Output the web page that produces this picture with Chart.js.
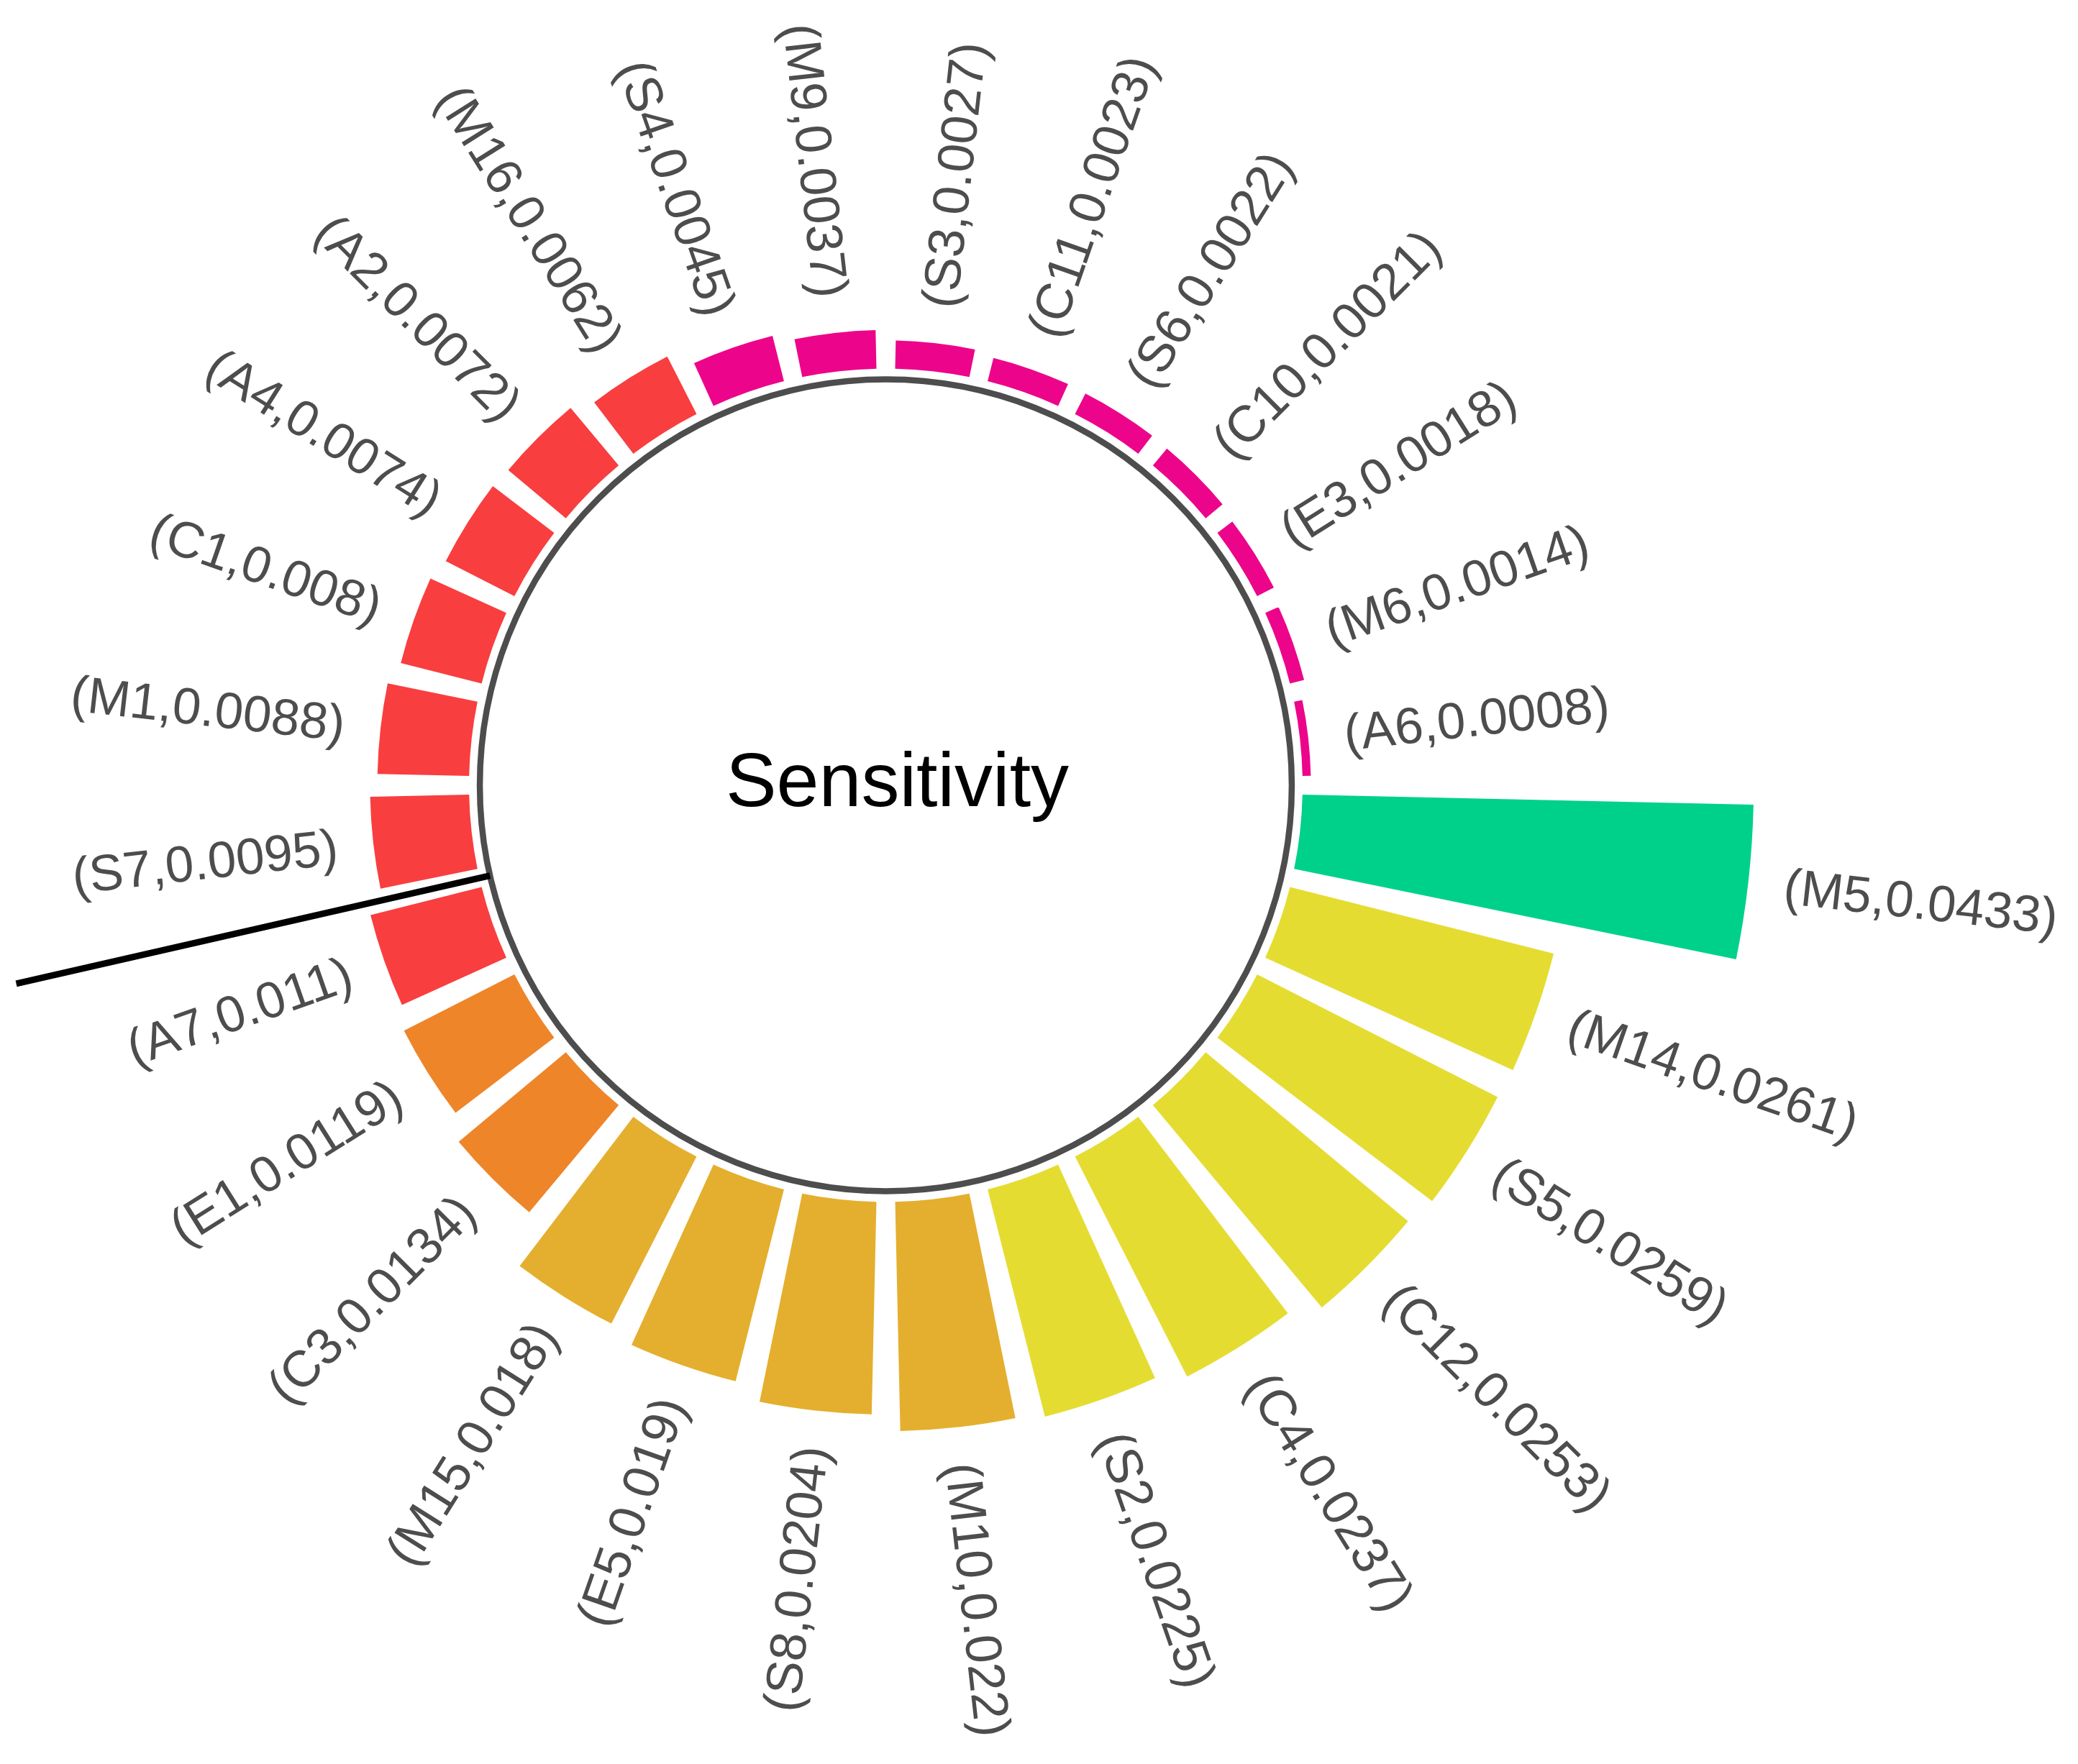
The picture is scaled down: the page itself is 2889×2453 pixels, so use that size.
<!DOCTYPE html>
<html>
<head>
<meta charset="utf-8">
<script src="https://cdn.jsdelivr.net/npm/chart.js@4/dist/chart.umd.min.js"></script>
<style>
  html, body { margin: 0; padding: 0; background: #ffffff; }
  #wrap { width: 2889px; height: 2453px; position: relative; }
  canvas { display: block; }
</style>
</head>
<body>
<div id="wrap"><canvas id="c" width="2889" height="2453"></canvas></div>
<script>
// ---- data (clockwise from 3 o'clock) ----
const categories = ['M5','M14','S5','C12','C4','S2','M10','S8','E5','M15',
                    'C3','E1','A7','S7','M1','C1','A4','A2','M16','S4',
                    'M9','S3','C11','S6','C10','E3','M6','A6'];
const sensitivity = [0.0433,0.0261,0.0259,0.0253,0.0237,0.0225,0.022,0.0204,0.019,0.018,
                     0.0134,0.0119,0.011,0.0095,0.0088,0.008,0.0074,0.0072,0.0062,0.0045,
                     0.0037,0.0027,0.0023,0.0022,0.0021,0.0018,0.0014,0.0008];
const centerTitle = 'Sensitivity';
const markerAfterCategory = 'A7';   // separator line drawn after this category

// ---- styles ----
const GREEN = '#00D18A', YELLOW = '#E5DC32', GOLD = '#E4AF2E', ORANGE = '#EE8529', RED = '#F93E3F', MAGENTA = '#EC058A';
const barColors = [GREEN, YELLOW, YELLOW, YELLOW, YELLOW, YELLOW, GOLD, GOLD, GOLD, GOLD,
                   ORANGE, ORANGE, RED, RED, RED, RED, RED, RED, RED, MAGENTA,
                   MAGENTA, MAGENTA, MAGENTA, MAGENTA, MAGENTA, MAGENTA, MAGENTA, MAGENTA];
const BAR_FRACTION = 0.8;
const TEXT_COLOR = '#4D4D4D';
const FONT = '"Liberation Sans", Arial, Helvetica, sans-serif';

const decor = {
  id: 'decor',
  afterDatasetsUpdate(chart) {
    const meta = chart.getDatasetMeta(0);
    const scale = chart.scales.r;
    const base = scale.getDistanceFromCenterForValue(0);
    meta.data.forEach(arc => {
      const span = arc.endAngle - arc.startAngle;
      const trim = span * (1 - BAR_FRACTION) / 2;
      arc.startAngle = arc.startAngle + trim;
      arc.endAngle = arc.endAngle - trim;
      arc.innerRadius = base;
    });
  },
  afterDatasetsDraw(chart) {
    const ctx = chart.ctx;
    const scale = chart.scales.r;
    const cx = scale.xCenter, cy = scale.yCenter;
    const base = scale.getDistanceFromCenterForValue(0);
    const ringR = base - 15;
    const meta = chart.getDatasetMeta(0);

    ctx.save();
    // inner ring
    ctx.beginPath();
    ctx.arc(cx, cy, ringR, 0, Math.PI * 2);
    ctx.lineWidth = 8.5;
    ctx.strokeStyle = TEXT_COLOR;
    ctx.stroke();

    // separator line
    const k = categories.indexOf(markerAfterCategory);
    const a = (meta.data[k].endAngle + meta.data[k + 1].startAngle) / 2;
    ctx.beginPath();
    ctx.moveTo(cx + Math.cos(a) * ringR, cy + Math.sin(a) * ringR);
    ctx.lineTo(cx + Math.cos(a) * scale.drawingArea, cy + Math.sin(a) * scale.drawingArea);
    ctx.lineWidth = 9;
    ctx.strokeStyle = '#000000';
    ctx.lineCap = 'butt';
    ctx.stroke();

    // labels
    ctx.font = '71px ' + FONT;
    ctx.fillStyle = TEXT_COLOR;
    ctx.textBaseline = 'middle';
    meta.data.forEach((arc, i) => {
      const mid = (arc.startAngle + arc.endAngle) / 2;
      const r = arc.outerRadius + 50;
      const x = cx + Math.cos(mid) * r;
      const y = cy + Math.sin(mid) * r;
      ctx.save();
      ctx.translate(x, y);
      if (Math.cos(mid) >= 0) {
        ctx.rotate(mid);
        ctx.textAlign = 'left';
      } else {
        ctx.rotate(mid + Math.PI);
        ctx.textAlign = 'right';
      }
      ctx.fillText('(' + categories[i] + ',' + sensitivity[i] + ')', 0, 4);
      ctx.restore();
    });

    // center title
    ctx.font = '106px ' + FONT;
    ctx.fillStyle = '#000000';
    ctx.textAlign = 'center';
    ctx.textBaseline = 'middle';
    ctx.fillText(centerTitle, cx + 16, cy);
    ctx.restore();
  }
};

new Chart(document.getElementById('c').getContext('2d'), {
  type: 'polarArea',
  data: {
    labels: categories,
    datasets: [{
      data: sensitivity,
      backgroundColor: barColors,
      borderWidth: 0,
      clip: false
    }]
  },
  options: {
    responsive: false,
    animation: false,
    events: [],
    layout: { padding: 0 },
    plugins: { legend: { display: false }, tooltip: { enabled: false } },
    scales: {
      r: {
        startAngle: 90,
        min: -0.04,
        max: 0.0456,
        grid: { display: false },
        angleLines: { display: false },
        ticks: { display: false },
        pointLabels: { display: false },
        afterFit: (s) => { s.xCenter = 1231.5; s.yCenter = 1092; s.drawingArea = 1240; }
      }
    }
  },
  plugins: [decor]
});
</script>
</body>
</html>
